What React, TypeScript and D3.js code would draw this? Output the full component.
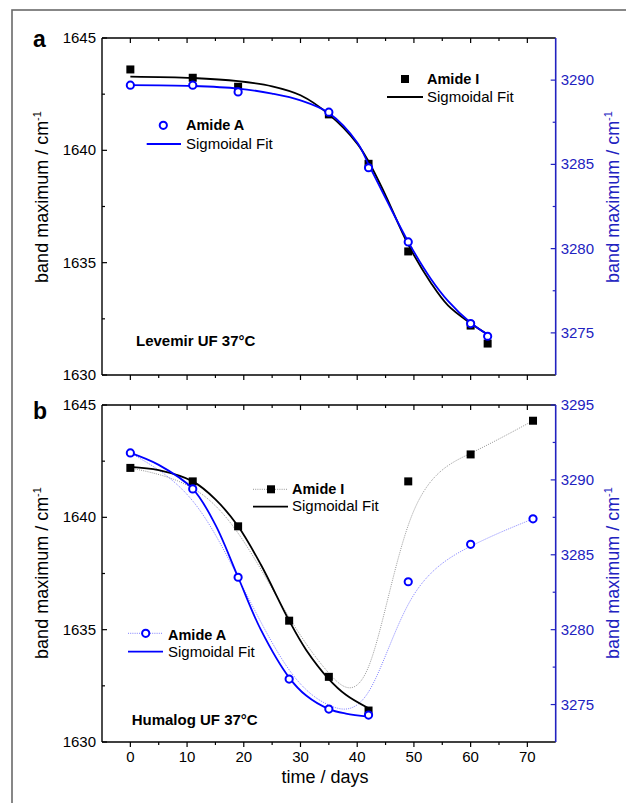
import React from "react";
import * as d3 from "d3";

// Levemir UF 37°C (panel a)
const levemirDays = [0, 11, 19, 35, 42, 49, 60, 63];
const levemirAmideI = [1643.6, 1643.23, 1642.83, 1641.6, 1639.4, 1635.5, 1632.2, 1631.4];
const levemirAmideA = [3289.7, 3289.7, 3289.3, 3288.1, 3284.8, 3280.4, 3275.55, 3274.8];
// sigmoidal fit curves
const levemirFitDays = [0, 11, 19, 25, 30, 35, 40, 42, 45, 49, 53, 56, 60, 63];
const levemirFitI = [1643.28, 1643.22, 1643.08, 1642.85, 1642.45, 1641.6, 1640.3, 1639.5, 1638.0, 1635.8, 1634.1, 1633.1, 1632.3, 1631.8];
const levemirFitA = [3289.7, 3289.65, 3289.5, 3289.2, 3288.8, 3288.05, 3286.3, 3285.0, 3283.0, 3280.4, 3278.2, 3276.9, 3275.6, 3274.9];

// Humalog UF 37°C (panel b)
const humalogDays = [0, 11, 19, 28, 35, 42, 49, 60, 71];
const humalogAmideI = [1642.2, 1641.6, 1639.6, 1635.4, 1632.9, 1631.4, 1641.6, 1642.8, 1644.3];
const humalogAmideA = [3291.8, 3289.4, 3283.5, 3276.7, 3274.7, 3274.3, 3283.2, 3285.7, 3287.4];
const humalogFitDays = [0, 5, 11, 15, 19, 23, 28, 31, 35, 38, 42];
const humalogFitI = [1642.25, 1642.1, 1641.6, 1640.8, 1639.6, 1637.9, 1635.4, 1634.1, 1632.8, 1632.1, 1631.5];
const humalogFitA = [3291.8, 3291.0, 3289.4, 3287.0, 3283.5, 3280.0, 3276.8, 3275.6, 3274.7, 3274.4, 3274.2];

// ticks
const dayTicks = [0, 10, 20, 30, 40, 50, 60, 70];
const dayMinor = [5, 15, 25, 35, 45, 55, 65];
const leftTicks = [1630, 1635, 1640, 1645];
const leftMinor = [1632.5, 1637.5, 1642.5];
const levemirRightTicks = [3275, 3280, 3285, 3290];
const levemirRightMinor = [3277.5, 3282.5, 3287.5];
const humalogRightTicks = [3275, 3280, 3285, 3290, 3295];
const humalogRightMinor = [3277.5, 3282.5, 3287.5, 3292.5];

const FONT = "'Liberation Sans', Arial, Helvetica, sans-serif";
const BLUE = "#0000ff";
const AXIS_BLUE = "#2222c0";

const x = d3.scaleLinear().domain([-5, 75]).range([102, 555.7]);
const X0 = 102;
const X1 = 555.7;

type PanelProps = {
  top: number;
  bottom: number;
  rightDomain: [number, number];
  rightTicks: number[];
  rightMinor: number[];
  days: number[];
  amideI: number[];
  amideA: number[];
  fitDays: number[];
  fitI: number[];
  fitA: number[];
  spline: boolean;
  xLabels: boolean;
  titleY: number;
};

function Square({ cx, cy }: { cx: number; cy: number }) {
  return <rect x={cx - 4} y={cy - 4} width={8} height={8} fill="#000" />;
}

function Circle({ cx, cy }: { cx: number; cy: number }) {
  return <circle cx={cx} cy={cy} r={3.6} fill="#fff" stroke={BLUE} strokeWidth={2} />;
}

function Panel(p: PanelProps) {
  const yL = d3.scaleLinear().domain([1630, 1645]).range([p.bottom, p.top]);
  const yR = d3.scaleLinear().domain(p.rightDomain).range([p.bottom, p.top]);

  const fitLine = (ys: number[], scale: d3.ScaleLinear<number, number>) =>
    d3
      .line<number>()
      .x((d) => x(d))
      .y((_, i) => scale(ys[i]))
      .curve(d3.curveCatmullRom.alpha(0.5))(p.fitDays) || "";

  const splineLine = (ys: number[], scale: d3.ScaleLinear<number, number>) =>
    d3
      .line<number>()
      .x((d) => x(d))
      .y((_, i) => scale(ys[i]))
      .curve(d3.curveBasis)(p.days) || "";

  return (
    <g>
      {/* dotted B-spline connections */}
      {p.spline && (
        <>
          <path d={splineLine(p.amideI, yL)} fill="none" stroke="#8a8a8a" strokeWidth={0.9} strokeDasharray="1,1.2" />
          <path d={splineLine(p.amideA, yR)} fill="none" stroke="#7070ff" strokeWidth={0.9} strokeDasharray="1,1.2" />
        </>
      )}
      <path d={fitLine(p.fitI, yL)} fill="none" stroke="#000" strokeWidth={1.8} />
      {p.days.map((d, i) => (
        <Square key={"s" + i} cx={x(d)} cy={yL(p.amideI[i])} />
      ))}
      <path d={fitLine(p.fitA, yR)} fill="none" stroke={BLUE} strokeWidth={1.8} />
      {p.days.map((d, i) => (
        <Circle key={"c" + i} cx={x(d)} cy={yR(p.amideA[i])} />
      ))}

      {/* frame */}
      <line x1={X0} x2={X1} y1={p.top} y2={p.top} stroke="#000" strokeWidth={1.4} />
      <line x1={X0} x2={X1} y1={p.bottom} y2={p.bottom} stroke="#000" strokeWidth={1.4} />
      <line x1={X0} x2={X0} y1={p.top} y2={p.bottom} stroke="#000" strokeWidth={1.4} />
      <line x1={X1} x2={X1} y1={p.top} y2={p.bottom} stroke={AXIS_BLUE} strokeWidth={1.6} />

      {/* x ticks: top inward, bottom outward */}
      {dayTicks.map((d) => (
        <g key={"xt" + d}>
          <line x1={x(d)} x2={x(d)} y1={p.top} y2={p.top + 5} stroke="#000" strokeWidth={1.2} />
          <line x1={x(d)} x2={x(d)} y1={p.bottom} y2={p.bottom + 5} stroke="#000" strokeWidth={1.2} />
          {p.xLabels && (
            <text x={x(d)} y={p.bottom + 20} textAnchor="middle" fontSize={15} fontFamily={FONT} fill="#000">
              {d}
            </text>
          )}
        </g>
      ))}
      {dayMinor.map((d) => (
        <g key={"xm" + d}>
          <line x1={x(d)} x2={x(d)} y1={p.top} y2={p.top + 3} stroke="#000" strokeWidth={1.2} />
          <line x1={x(d)} x2={x(d)} y1={p.bottom} y2={p.bottom + 3} stroke="#000" strokeWidth={1.2} />
        </g>
      ))}

      {/* left axis */}
      {leftTicks.map((v) => (
        <g key={"lt" + v}>
          <line x1={X0} x2={X0 + 5} y1={yL(v)} y2={yL(v)} stroke="#000" strokeWidth={1.2} />
          <text x={X0 - 6} y={yL(v) + 5} textAnchor="end" fontSize={15} fontFamily={FONT} fill="#000">
            {v}
          </text>
        </g>
      ))}
      {leftMinor.map((v) => (
        <line key={"lm" + v} x1={X0} x2={X0 + 3} y1={yL(v)} y2={yL(v)} stroke="#000" strokeWidth={1.2} />
      ))}

      {/* right axis */}
      {p.rightTicks.map((v) => (
        <g key={"rt" + v}>
          <line x1={X1} x2={X1 - 5} y1={yR(v)} y2={yR(v)} stroke={AXIS_BLUE} strokeWidth={1.2} />
          <text x={X1 + 5} y={yR(v) + 5} textAnchor="start" fontSize={15} fontFamily={FONT} fill={AXIS_BLUE}>
            {v}
          </text>
        </g>
      ))}
      {p.rightMinor.map((v) => (
        <line key={"rm" + v} x1={X1} x2={X1 - 3} y1={yR(v)} y2={yR(v)} stroke={AXIS_BLUE} strokeWidth={1.2} />
      ))}

      {/* axis titles */}
      <text transform={`translate(48,${p.titleY}) rotate(-90)`} textAnchor="middle" fontSize={18} fontFamily={FONT} fill="#000">
        band maximum / cm<tspan dy={-7} fontSize={11}>-1</tspan>
      </text>
      <text transform={`translate(619,${p.titleY}) rotate(-90)`} textAnchor="middle" fontSize={18} fontFamily={FONT} fill={AXIS_BLUE}>
        band maximum / cm<tspan dy={-7} fontSize={11}>-1</tspan>
      </text>
    </g>
  );
}

export default function App() {
  return (
    <svg
      width={626}
      height={803}
      style={{ position: "absolute", left: 0, top: 0, background: "#fff" }}
      fontFamily={FONT}
    >
      <rect x={0} y={0} width={626} height={803} fill="#fff" />
      <rect x={12} y={10} width={700} height={900} fill="none" stroke="#6a6a6a" strokeWidth={1.6} />

      <Panel
        top={38}
        bottom={375}
        rightDomain={[3272.5, 3292.5]}
        rightTicks={levemirRightTicks}
        rightMinor={levemirRightMinor}
        days={levemirDays}
        amideI={levemirAmideI}
        amideA={levemirAmideA}
        fitDays={levemirFitDays}
        fitI={levemirFitI}
        fitA={levemirFitA}
        spline={false}
        xLabels={false}
        titleY={197}
      />
      <Panel
        top={405}
        bottom={742}
        rightDomain={[3272.5, 3295]}
        rightTicks={humalogRightTicks}
        rightMinor={humalogRightMinor}
        days={humalogDays}
        amideI={humalogAmideI}
        amideA={humalogAmideA}
        fitDays={humalogFitDays}
        fitI={humalogFitI}
        fitA={humalogFitA}
        spline={true}
        xLabels={true}
        titleY={573}
      />

      {/* panel letters */}
      <text x={33} y={47} fontSize={23} fontWeight="bold" fill="#000">a</text>
      <text x={33} y={419} fontSize={23} fontWeight="bold" fill="#000">b</text>

      {/* panel a legends */}
      <Square cx={405} cy={79} />
      <text x={427} y={83.5} fontSize={14.5} fontWeight="bold" fill="#000">Amide I</text>
      <line x1={387} x2={423} y1={97} y2={97} stroke="#000" strokeWidth={1.8} />
      <text x={427} y={101.5} fontSize={15} fill="#000">Sigmoidal Fit</text>

      <Circle cx={163.3} cy={125.3} />
      <text x={186} y={130} fontSize={14.5} fontWeight="bold" fill="#000">Amide A</text>
      <line x1={146.7} x2={181} y1={144} y2={144} stroke={BLUE} strokeWidth={1.8} />
      <text x={186} y={149} fontSize={15} fill="#000">Sigmoidal Fit</text>

      <text x={136} y={346} fontSize={15} fontWeight="bold" fill="#000">Levemir UF 37°C</text>

      {/* panel b legends */}
      <line x1={253} x2={287} y1={489.3} y2={489.3} stroke="#8a8a8a" strokeWidth={0.9} strokeDasharray="1,1.2" />
      <Square cx={271} cy={489.3} />
      <text x={292} y={493.5} fontSize={14.5} fontWeight="bold" fill="#000">Amide I</text>
      <line x1={253} x2={288} y1={506.7} y2={506.7} stroke="#000" strokeWidth={1.8} />
      <text x={292} y={511} fontSize={15} fill="#000">Sigmoidal Fit</text>

      <line x1={128} x2={162} y1={633.3} y2={633.3} stroke="#7070ff" strokeWidth={0.9} strokeDasharray="1,1.2" />
      <Circle cx={145.7} cy={633.3} />
      <text x={168} y={639.5} fontSize={14.5} fontWeight="bold" fill="#000">Amide A</text>
      <line x1={128} x2={163} y1={651.7} y2={651.7} stroke={BLUE} strokeWidth={1.8} />
      <text x={168} y={657} fontSize={15} fill="#000">Sigmoidal Fit</text>

      <text x={131.7} y={725} fontSize={15} fontWeight="bold" fill="#000">Humalog UF 37°C</text>

      {/* x axis title */}
      <text x={325} y={783} textAnchor="middle" fontSize={18} fill="#000">time / days</text>
    </svg>
  );
}
